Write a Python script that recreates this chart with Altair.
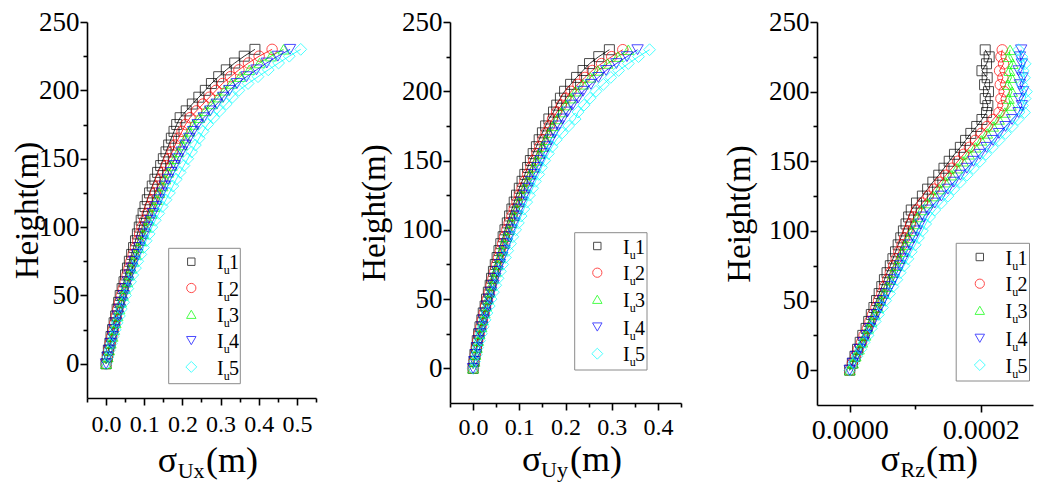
import altair as alt
import pandas as pd

# heights of the output points (m)
heights = [0, 5, 10, 15, 20, 25, 30, 35, 40, 45,
           50, 55, 60, 65, 70, 75, 80, 85, 90, 95,
           100, 105, 110, 115, 120, 125, 130, 135, 140, 145,
           150, 155, 160, 165, 170, 175, 180, 185, 190, 195,
           200, 205, 210, 215, 220, 225, 230]

# sigma_Ux (m)
ux_1 = [0.000, 0.003, 0.006, 0.010, 0.013, 0.017, 0.021, 0.025, 0.029, 0.033,
        0.037, 0.042, 0.047, 0.051, 0.056, 0.061, 0.067, 0.072, 0.077, 0.082,
        0.087, 0.092, 0.097, 0.102, 0.108, 0.114, 0.121, 0.128, 0.135, 0.143,
        0.150, 0.157, 0.164, 0.171, 0.178, 0.185, 0.194, 0.210, 0.226, 0.243,
        0.260, 0.276, 0.295, 0.315, 0.337, 0.362, 0.390]
ux_2 = [0.000, 0.004, 0.007, 0.011, 0.015, 0.019, 0.023, 0.027, 0.031, 0.035,
        0.040, 0.045, 0.050, 0.055, 0.060, 0.065, 0.071, 0.077, 0.083, 0.088,
        0.094, 0.101, 0.108, 0.115, 0.122, 0.129, 0.136, 0.143, 0.150, 0.158,
        0.165, 0.173, 0.181, 0.190, 0.199, 0.208, 0.220, 0.237, 0.254, 0.271,
        0.288, 0.305, 0.326, 0.348, 0.373, 0.401, 0.435]
ux_3 = [0.000, 0.004, 0.008, 0.012, 0.017, 0.021, 0.025, 0.030, 0.035, 0.039,
        0.044, 0.049, 0.055, 0.060, 0.066, 0.071, 0.078, 0.084, 0.091, 0.097,
        0.104, 0.111, 0.119, 0.126, 0.133, 0.140, 0.148, 0.155, 0.163, 0.172,
        0.180, 0.189, 0.199, 0.208, 0.218, 0.228, 0.244, 0.260, 0.277, 0.294,
        0.310, 0.328, 0.351, 0.375, 0.402, 0.432, 0.465]
ux_4 = [0.000, 0.004, 0.009, 0.013, 0.018, 0.022, 0.027, 0.031, 0.036, 0.041,
        0.046, 0.051, 0.057, 0.062, 0.068, 0.074, 0.081, 0.087, 0.094, 0.101,
        0.108, 0.116, 0.123, 0.131, 0.139, 0.146, 0.154, 0.162, 0.171, 0.180,
        0.188, 0.198, 0.208, 0.218, 0.228, 0.240, 0.256, 0.273, 0.290, 0.307,
        0.323, 0.343, 0.368, 0.394, 0.421, 0.450, 0.482]
ux_5 = [0.000, 0.005, 0.009, 0.014, 0.019, 0.024, 0.029, 0.035, 0.040, 0.046,
        0.051, 0.057, 0.064, 0.070, 0.077, 0.083, 0.091, 0.098, 0.105, 0.113,
        0.120, 0.129, 0.138, 0.147, 0.157, 0.166, 0.175, 0.184, 0.194, 0.204,
        0.214, 0.224, 0.234, 0.244, 0.254, 0.266, 0.282, 0.298, 0.315, 0.331,
        0.348, 0.372, 0.398, 0.425, 0.452, 0.480, 0.510]

# sigma_Uy (m)
uy_1 = [0.000, 0.002, 0.004, 0.007, 0.009, 0.012, 0.015, 0.019, 0.022, 0.026,
        0.029, 0.033, 0.037, 0.040, 0.044, 0.048, 0.052, 0.056, 0.060, 0.065,
        0.069, 0.074, 0.079, 0.084, 0.089, 0.094, 0.100, 0.106, 0.112, 0.118,
        0.124, 0.130, 0.137, 0.143, 0.150, 0.157, 0.164, 0.174, 0.181, 0.189,
        0.198, 0.211, 0.224, 0.238, 0.252, 0.272, 0.295]
uy_2 = [0.000, 0.002, 0.005, 0.007, 0.010, 0.013, 0.017, 0.020, 0.024, 0.027,
        0.031, 0.035, 0.039, 0.043, 0.047, 0.051, 0.055, 0.059, 0.064, 0.068,
        0.073, 0.078, 0.084, 0.089, 0.095, 0.100, 0.106, 0.112, 0.118, 0.125,
        0.131, 0.138, 0.144, 0.151, 0.158, 0.165, 0.172, 0.181, 0.191, 0.201,
        0.212, 0.227, 0.242, 0.258, 0.278, 0.300, 0.324]
uy_3 = [0.000, 0.003, 0.005, 0.008, 0.011, 0.014, 0.018, 0.021, 0.025, 0.028,
        0.032, 0.036, 0.040, 0.044, 0.049, 0.053, 0.058, 0.062, 0.067, 0.072,
        0.077, 0.083, 0.088, 0.094, 0.099, 0.105, 0.111, 0.118, 0.124, 0.131,
        0.137, 0.144, 0.151, 0.158, 0.165, 0.173, 0.182, 0.191, 0.201, 0.211,
        0.222, 0.238, 0.254, 0.270, 0.291, 0.313, 0.336]
uy_4 = [0.000, 0.003, 0.006, 0.009, 0.013, 0.016, 0.020, 0.023, 0.027, 0.031,
        0.035, 0.039, 0.044, 0.048, 0.053, 0.058, 0.063, 0.068, 0.073, 0.078,
        0.083, 0.089, 0.095, 0.100, 0.106, 0.112, 0.119, 0.125, 0.132, 0.139,
        0.146, 0.153, 0.161, 0.168, 0.176, 0.185, 0.194, 0.204, 0.215, 0.227,
        0.238, 0.255, 0.271, 0.288, 0.310, 0.333, 0.356]
uy_5 = [0.000, 0.003, 0.007, 0.010, 0.014, 0.018, 0.022, 0.026, 0.030, 0.035,
        0.039, 0.044, 0.049, 0.054, 0.059, 0.064, 0.070, 0.075, 0.081, 0.086,
        0.092, 0.098, 0.104, 0.110, 0.116, 0.122, 0.129, 0.135, 0.142, 0.148,
        0.155, 0.163, 0.171, 0.180, 0.193, 0.207, 0.221, 0.227, 0.240, 0.253,
        0.266, 0.282, 0.298, 0.315, 0.336, 0.358, 0.382]

# sigma_Rz, in units of 1e-6
rz_1 = [0, 4, 8, 12, 16, 20, 25, 29, 33, 37,
        41, 45, 49, 53, 57, 62, 66, 70, 74, 78,
        82, 86, 90, 94, 102, 111, 119, 127, 136, 144,
        152, 160, 169, 177, 185, 194, 202, 209, 211, 207,
        212, 206, 210, 202, 209, 213, 207]
rz_2 = [0, 4, 9, 13, 18, 22, 27, 31, 35, 40,
        44, 49, 53, 58, 62, 67, 71, 75, 80, 84,
        89, 93, 98, 102, 111, 120, 129, 138, 147, 156,
        165, 174, 183, 192, 201, 210, 219, 228, 234, 231,
        236, 230, 234, 229, 235, 231, 233]
rz_3 = [0, 5, 9, 14, 19, 24, 28, 33, 38, 43,
        47, 52, 57, 62, 66, 71, 76, 81, 85, 90,
        95, 100, 104, 110, 119, 128, 137, 146, 155, 164,
        173, 182, 192, 201, 210, 219, 228, 237, 246, 243,
        248, 242, 247, 244, 249, 243, 245]
rz_4 = [0, 5, 10, 15, 21, 26, 31, 36, 41, 46,
        51, 56, 62, 67, 72, 77, 82, 87, 92, 98,
        103, 108, 113, 120, 130, 140, 150, 159, 169, 179,
        189, 199, 209, 219, 228, 238, 248, 258, 263, 259,
        265, 260, 264, 258, 263, 260, 262]
rz_5 = [0, 6, 11, 17, 22, 28, 33, 39, 44, 50,
        55, 61, 66, 72, 77, 83, 89, 94, 100, 105,
        111, 116, 122, 130, 140, 150, 159, 169, 179, 189,
        199, 208, 218, 228, 238, 248, 257, 267, 264, 268,
        270, 263, 267, 265, 268, 263, 258]

series = ["Iu1", "Iu2", "Iu3", "Iu4", "Iu5"]
legend_digits = ["1", "2", "3", "4", "5"]

# tick positions (major + minor)
y_ticks = [0, 25, 50, 75, 100, 125, 150, 175, 200, 225, 250]
ux_ticks = [-0.05, 0.0, 0.05, 0.1, 0.15, 0.2, 0.25, 0.3, 0.35, 0.4, 0.45, 0.5, 0.55]
uy_ticks = [-0.05, 0.0, 0.05, 0.1, 0.15, 0.2, 0.25, 0.3, 0.35, 0.4, 0.45]
rz_ticks = [0.0, 0.0001, 0.0002]

colors = ["#000000", "#ff0000", "#00ff00", "#0000ff", "#00ffff"]
shapes = ["square", "circle", "triangle-up", "triangle-down", "diamond"]
sizes = [100, 140, 130, 130, 170]
legend_sizes = [55, 85, 90, 90, 120]

FONT = "Liberation Serif"
one = pd.DataFrame({"k": [0]})


def long_table(cols, scale=1.0):
    rows = []
    for name, xs in zip(series, cols):
        for h, v in zip(heights, xs):
            rows.append({"series": name, "h": h, "x": v * scale})
    return pd.DataFrame(rows)


def txt(s, x, y, size):
    return alt.Chart(one).mark_text(
        text=s, font=FONT, fontSize=size, align="left",
        baseline="alphabetic", color="black"
    ).encode(x=alt.value(x), y=alt.value(y))


def panel(df, ticks, xlim, major_test, fmt, xlab, w, h, title, leg, tpad):
    xlab_size, xlab_pad = xlab
    x_enc = alt.X("x:Q",
                  scale=alt.Scale(domain=xlim, nice=False, zero=False),
                  axis=alt.Axis(values=ticks, format=fmt, title=None,
                                labelExpr=f"({major_test}) ? datum.label : ''",
                                tickSize={"condition": {"test": major_test, "value": 7}, "value": 4},
                                labelFontSize=xlab_size, labelPadding=xlab_pad))
    y_enc = alt.Y("h:Q",
                  scale=alt.Scale(domain=[-25, 250], nice=False, zero=False),
                  axis=alt.Axis(values=y_ticks, title="Height(m)",
                                labelExpr="datum.value % 50 === 0 ? datum.label : ''",
                                tickSize={"condition": {"test": "datum.value % 50 === 0", "value": 7}, "value": 4},
                                labelFontSize=27, labelPadding=1,
                                titleFontSize=33, titlePadding=tpad))
    color = alt.Color("series:N", scale=alt.Scale(domain=series, range=colors), legend=None)
    base = alt.Chart(df)
    lines = base.mark_line(strokeWidth=0.8).encode(
        x=x_enc, y=y_enc, color=color, order=alt.Order("h:Q"))
    points = base.mark_point(filled=False, strokeWidth=1).encode(
        x=x_enc, y=y_enc, color=color,
        shape=alt.Shape("series:N", scale=alt.Scale(domain=series, range=shapes), legend=None),
        size=alt.Size("series:N", scale=alt.Scale(domain=series, range=sizes), legend=None))

    layers = [lines, points]

    # legend box
    bx0, bx1, by0, by1, sx, rows, tx = leg
    layers.append(alt.Chart(one).mark_rect(fill="white", stroke="#8a8a8a", strokeWidth=1).encode(
        x=alt.value(bx0), x2=alt.value(bx1), y=alt.value(h + by0), y2=alt.value(h + by1)))
    for i in range(5):
        ry = h + rows[i]
        layers.append(alt.Chart(one).mark_point(
            shape=shapes[i], color=colors[i], filled=False,
            size=legend_sizes[i], strokeWidth=1).encode(x=alt.value(sx), y=alt.value(ry)))
        layers.append(txt("I", tx, ry + 7.6, 20))
        layers.append(txt("u", tx + 6.7, ry + 12.6, 12))
        layers.append(txt(legend_digits[i], tx + 12, ry + 7.6, 20))

    # x title with subscript
    (sig_x, sub_x, m_x, base_dy, sub_dy, sub_text) = title
    layers.append(txt("σ", sig_x, h + base_dy, 36))
    layers.append(txt(sub_text, sub_x, h + sub_dy, 22))
    layers.append(txt("(m)", m_x, h + base_dy, 36))

    return alt.layer(*layers).properties(width=w, height=h)


df_ux = long_table([ux_1, ux_2, ux_3, ux_4, ux_5])
df_uy = long_table([uy_1, uy_2, uy_3, uy_4, uy_5])
df_rz = long_table([rz_1, rz_2, rz_3, rz_4, rz_5], scale=1e-6)

test_01 = "abs(datum.value * 10 - round(datum.value * 10)) < 0.001"
test_rz = "abs(datum.value * 5000 - round(datum.value * 5000)) < 0.001"

p1 = panel(df_ux, ux_ticks, [-0.05, 0.55], test_01, ".1f", (24, 7), 229, 376,
           (70.7, 90.7, 119, 74, 80, "Ux"),
           (81.7, 153.3, -149.7, -14.3, 104.3,
            [-136.3, -110, -83.7, -57.4, -31.1], 130), -6)
p2 = panel(df_uy, uy_ticks, [-0.05, 0.45], test_01, ".1f", (24, 5), 231, 381,
           (72, 91, 120, 68, 74, "Uy"),
           (124.7, 197, -170.3, -33, 147.3,
            [-157, -130.3, -103.7, -76, -49.3], 173), 10)
p3 = panel(df_rz, rz_ticks, [-0.00005, 0.00028], test_rz, ".4f", (28, 4), 216, 383,
           (63.5, 83.5, 109, 66, 72, "Rz"),
           (139.2, 212.5, -161.7, -24, 162.8,
            [-148, -121.3, -94.7, -66.7, -40], 188.5), 12)

chart = alt.hconcat(p1, p2, p3, spacing=41).properties(
    padding={"left": 3, "top": 0, "right": 0, "bottom": 0}
).configure_view(stroke=None).configure_axis(
    domainColor="black", domainWidth=1.6, tickColor="black", tickWidth=1.6,
    labelFont=FONT, labelColor="black", titleFont=FONT, titleColor="black",
    titleFontWeight="normal", grid=False, labelOverlap=False, labelFlush=False
)

chart.save("out.html", embed_options={"renderer": "svg", "actions": False})
